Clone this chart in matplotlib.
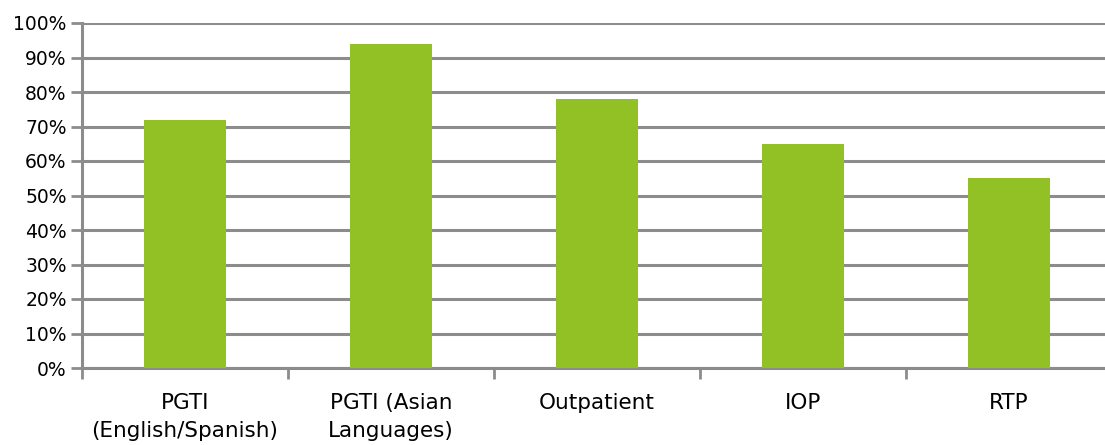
import matplotlib

matplotlib.use("Agg")
import matplotlib.pyplot as plt
from matplotlib.ticker import MultipleLocator, FixedLocator, PercentFormatter

categories = ["PGTI\n(English/Spanish)", "PGTI (Asian\nLanguages)", "Outpatient", "IOP", "RTP"]
values = [72, 94, 78, 65, 55]

BAR_COLOR = "#92C126"
GRID_COLOR = "#8C8C8C"

plt.rcParams["font.family"] = ["DejaVu Sans"]

fig = plt.figure(figsize=(11.05, 4.45), dpi=100)
# axes run a bit past the right edge of the canvas
ax = fig.add_axes([82 / 1105, 77 / 445, 1030 / 1105, 345 / 445])

x = list(range(len(categories)))
ax.bar(x, values, width=0.4, color=BAR_COLOR, zorder=3)

ax.set_xlim(-0.5, len(categories) - 0.5)
ax.set_ylim(0, 100)
ax.yaxis.set_major_locator(MultipleLocator(10))
ax.yaxis.set_major_formatter(PercentFormatter(decimals=0))
ax.yaxis.grid(True, color=GRID_COLOR, linewidth=2.2, zorder=1)

ax.set_xticks(x)
ax.set_xticklabels(categories, fontsize=15.5, linespacing=1.5)
ax.xaxis.set_minor_locator(FixedLocator([i - 0.5 for i in range(len(categories) + 1)]))
ax.tick_params(axis="x", which="major", length=0, pad=18)
ax.tick_params(axis="x", which="minor", length=8, width=2, color=GRID_COLOR, direction="out")
ax.tick_params(axis="y", length=8, width=2, color=GRID_COLOR, labelsize=13.5, pad=3)

for side in ("top", "right"):
    ax.spines[side].set_visible(False)
for side in ("left", "bottom"):
    ax.spines[side].set_color(GRID_COLOR)
    ax.spines[side].set_linewidth(2.2)

fig.savefig("out.png", dpi=100)
